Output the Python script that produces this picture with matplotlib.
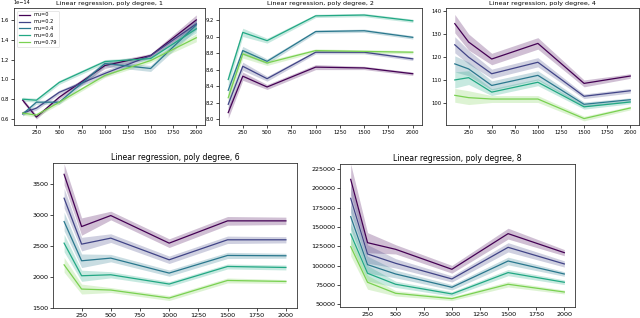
import matplotlib
matplotlib.use("Agg")
import matplotlib.pyplot as plt
import numpy as np

x_vals = [100, 250, 500, 1000, 1500, 2000]
mu_labels = ["mu=0", "mu=0.2", "mu=0.4", "mu=0.6", "mu=0.79"]
colors = ["#440154", "#414487", "#2a788e", "#22a884", "#7ad151"]
degrees = [1, 2, 4, 6, 8]

# degree 1 (x 1e-14)
d1_mean = [
    [0.79, 0.62, 0.82, 1.14, 1.24, 1.60],
    [0.66, 0.71, 0.87, 1.06, 1.24, 1.56],
    [0.65, 0.77, 0.77, 1.16, 1.11, 1.55],
    [0.80, 0.79, 0.97, 1.18, 1.21, 1.51],
    [0.66, 0.64, 0.77, 1.04, 1.19, 1.42],
]
d1_err = [
    [0.02, 0.02, 0.02, 0.03, 0.02, 0.05],
    [0.02, 0.02, 0.02, 0.03, 0.02, 0.05],
    [0.02, 0.02, 0.02, 0.03, 0.03, 0.05],
    [0.02, 0.02, 0.02, 0.02, 0.02, 0.04],
    [0.02, 0.02, 0.02, 0.02, 0.02, 0.04],
]
# degree 2
d2_mean = [
    [8.08, 8.52, 8.39, 8.63, 8.62, 8.55],
    [8.18, 8.64, 8.49, 8.81, 8.81, 8.73],
    [8.35, 8.83, 8.70, 9.06, 9.07, 8.99],
    [8.48, 9.05, 8.95, 9.25, 9.26, 9.19],
    [8.26, 8.79, 8.68, 8.83, 8.82, 8.81],
]
d2_err = [
    [0.07, 0.05, 0.03, 0.03, 0.02, 0.02],
    [0.07, 0.05, 0.03, 0.02, 0.02, 0.02],
    [0.07, 0.05, 0.03, 0.02, 0.02, 0.02],
    [0.07, 0.05, 0.03, 0.02, 0.02, 0.02],
    [0.07, 0.05, 0.03, 0.02, 0.02, 0.02],
]
# degree 4
d4_mean = [
    [134.5, 126.5, 119.1, 125.9, 108.5, 111.7],
    [125.3, 119.9, 112.7, 117.7, 102.9, 105.3],
    [117.0, 114.8, 107.6, 112.0, 99.4, 101.4],
    [110.0, 111.0, 104.7, 109.0, 98.3, 100.4],
    [103.3, 102.3, 101.7, 101.7, 93.2, 97.8],
]
d4_err = [
    [4.0, 3.5, 2.5, 2.5, 1.5, 1.0],
    [3.5, 3.0, 2.0, 2.0, 1.0, 1.0],
    [3.5, 3.0, 2.0, 2.0, 1.0, 0.8],
    [3.5, 3.0, 1.5, 1.5, 1.0, 0.8],
    [3.0, 3.0, 1.5, 1.5, 1.0, 0.8],
]
# degree 6
d6_mean = [
    [3660, 2816, 2994, 2548, 2908, 2908],
    [3274, 2532, 2629, 2279, 2602, 2602],
    [2897, 2263, 2306, 2064, 2349, 2344],
    [2548, 2021, 2037, 1887, 2171, 2155],
    [2198, 1806, 1790, 1661, 1945, 1929],
]
d6_err = [
    [170, 140, 70, 70, 70, 60],
    [160, 110, 70, 60, 60, 50],
    [150, 110, 60, 50, 50, 40],
    [140, 90, 50, 40, 40, 40],
    [120, 80, 40, 40, 40, 30],
]
# degree 8
d8_mean = [
    [211600, 129700, 121100, 95300, 141400, 116800],
    [187100, 115100, 103000, 82800, 123700, 102200],
    [163400, 101300, 89200, 72000, 106000, 89200],
    [140900, 90100, 75900, 63400, 91000, 78500],
    [124600, 78500, 64200, 57300, 75900, 65900],
]
d8_err = [
    [20000, 13000, 6000, 5000, 7000, 4000],
    [18000, 12000, 6000, 4000, 6000, 4000],
    [16000, 11000, 5000, 3500, 5000, 3000],
    [14000, 10000, 4000, 3000, 4000, 3000],
    [12000, 9000, 3500, 2500, 3500, 2500],
]

means = [d1_mean, d2_mean, d4_mean, d6_mean, d8_mean]
errs = [d1_err, d2_err, d4_err, d6_err, d8_err]
ylims = [(0.54e-14, 1.72e-14), (7.93, 9.345), (90.4, 141.3), (1500, 3843), (46500, 231500)]

W, H = 640, 318
fig = plt.figure(figsize=(6.4, 3.18), dpi=100)

def box(l, t, r, b):
    return [l / W, 1 - b / H, (r - l) / W, (b - t) / H]

rects = [box(14, 8, 205, 125), box(219, 8, 422, 125), box(446, 8, 639, 125),
         box(53, 163, 297, 308), box(340, 164, 575, 307)]
title_sizes = [4.6, 4.6, 4.6, 5.6, 5.6]
tick_sizes = [3.8, 3.8, 3.8, 4.6, 4.6]

for i, (rect, deg) in enumerate(zip(rects, degrees)):
    ax = fig.add_axes(rect)
    xs = np.array(x_vals)
    for j in range(len(mu_labels)):
        m = np.array(means[i][j], dtype=float)
        e = np.array(errs[i][j], dtype=float)
        if i == 0:
            m = m * 1e-14
            e = e * 1e-14
        ax.fill_between(xs, m - e, m + e, color=colors[j], alpha=0.25, linewidth=0)
        ax.plot(xs, m, color=colors[j], lw=0.9, label=mu_labels[j])
    ax.set_xticks([250, 500, 750, 1000, 1250, 1500, 1750, 2000])
    ax.set_ylim(*ylims[i])
    ax.tick_params(labelsize=tick_sizes[i], length=2, width=0.5, pad=1.5)
    ax.set_title("Linear regression, poly degree, %d" % deg, fontsize=title_sizes[i], pad=2)
    for s in ax.spines.values():
        s.set_linewidth(0.6)
        s.set_color("#333333")
    if i == 0:
        ax.set_yticks([0.6e-14, 0.8e-14, 1.0e-14, 1.2e-14, 1.4e-14, 1.6e-14])
        ax.yaxis.get_offset_text().set_fontsize(3.6)
        leg = ax.legend(loc="upper left", fontsize=3.6, frameon=True, handlelength=2.2,
                        borderpad=0.4, labelspacing=0.35)
        leg.get_frame().set_linewidth(0.4)

fig.savefig("out.png", dpi=100)
